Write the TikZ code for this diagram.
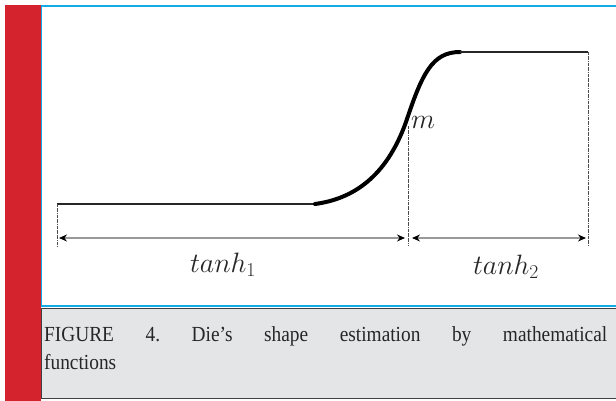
\documentclass[tikz,border=0pt]{standalone}
\usepackage{fix-cm}
\usepackage{fontspec}
\setmainfont{Liberation Serif}
\newfontfamily\capfont[FakeStretch=0.9,Ligatures=TeX]{Liberation Serif}
\usepackage{xcolor}
\usetikzlibrary{arrows.meta,positioning}
\definecolor{barred}{RGB}{213,35,45}
\definecolor{edgeblue}{RGB}{20,170,230}
\definecolor{capgray}{RGB}{228,229,231}
\tikzset{
  profile/.style={line width=4pt, draw=black, line cap=round},
  flatline/.style={line width=2.6pt, draw=black!85},
  guide/.style={densely dashdotted, line width=0.6pt, draw=black!70},
  span/.style={{Stealth[length=8pt,width=7pt,black]}-{Stealth[length=8pt,width=7pt,black]}, line width=1.8pt, draw=black!40},
  spanlbl/.style={font=\fontsize{28}{30}\selectfont, text=black!85, inner sep=1pt},
  caption/.style={font=\capfont\fontsize{21.5}{28}\selectfont\frenchspacing, text=black!85, align=justify, text width=563pt, inner sep=0pt, anchor=north west},
}
\begin{document}
\begin{tikzpicture}[x=1pt, y=-1pt]
  \useasboundingbox (0,0) rectangle (616,401);
  % frame
  \fill[barred] (5,5) rectangle (41,401);
  \fill[white] (41,6) rectangle (616,307);
  \draw[edgeblue, line width=1.6pt] (41.5,306) -- (41.5,6) -- (616,6);
  \draw[edgeblue, line width=1.6pt] (41,306) -- (616,306);
  \filldraw[fill=capgray, draw=black!75, line width=0.8pt] (41.4,308) rectangle (617,398);
  % curve
  \coordinate (a) at (57,204);
  \coordinate (b) at (315,204);
  \coordinate (m) at (406,122);
  \coordinate (c) at (460,52);
  \coordinate (d) at (588,52);
  \draw[flatline] (a) -- (b);
  \draw[profile] (b) .. controls (352,199) and (386,178) .. (m)
                     .. controls (422,74) and (432,52) .. (c);
  \draw[flatline] (c) -- (d);
  \node[spanlbl, right=4pt of m, yshift=0pt] (mlbl) {$m$};
  % guides
  \coordinate (ga) at (57,246);
  \coordinate (gm) at (408,246);
  \coordinate (gd) at (588,246);
  \draw[guide] (a) -- (ga);
  \draw[guide] (408,126) -- (gm);
  \draw[guide] (d) -- (gd);
  % spans
  \coordinate (s1a) at (59,238);
  \coordinate (s1b) at (405,238);
  \coordinate (s2a) at (412,238);
  \coordinate (s2b) at (586,238);
  \draw[span] (s1a) -- (s1b);
  \draw[span] (s2a) -- (s2b);
  \node[spanlbl] (t1) at (223,265) {$tanh_1$};
  \node[spanlbl] (t2) at (506,267) {$tanh_2$};
  % caption
  \node[caption] (cap) at (44,326) {FIGURE 4. Die’s shape estimation by mathematical\linebreak functions};
\end{tikzpicture}
\end{document}
